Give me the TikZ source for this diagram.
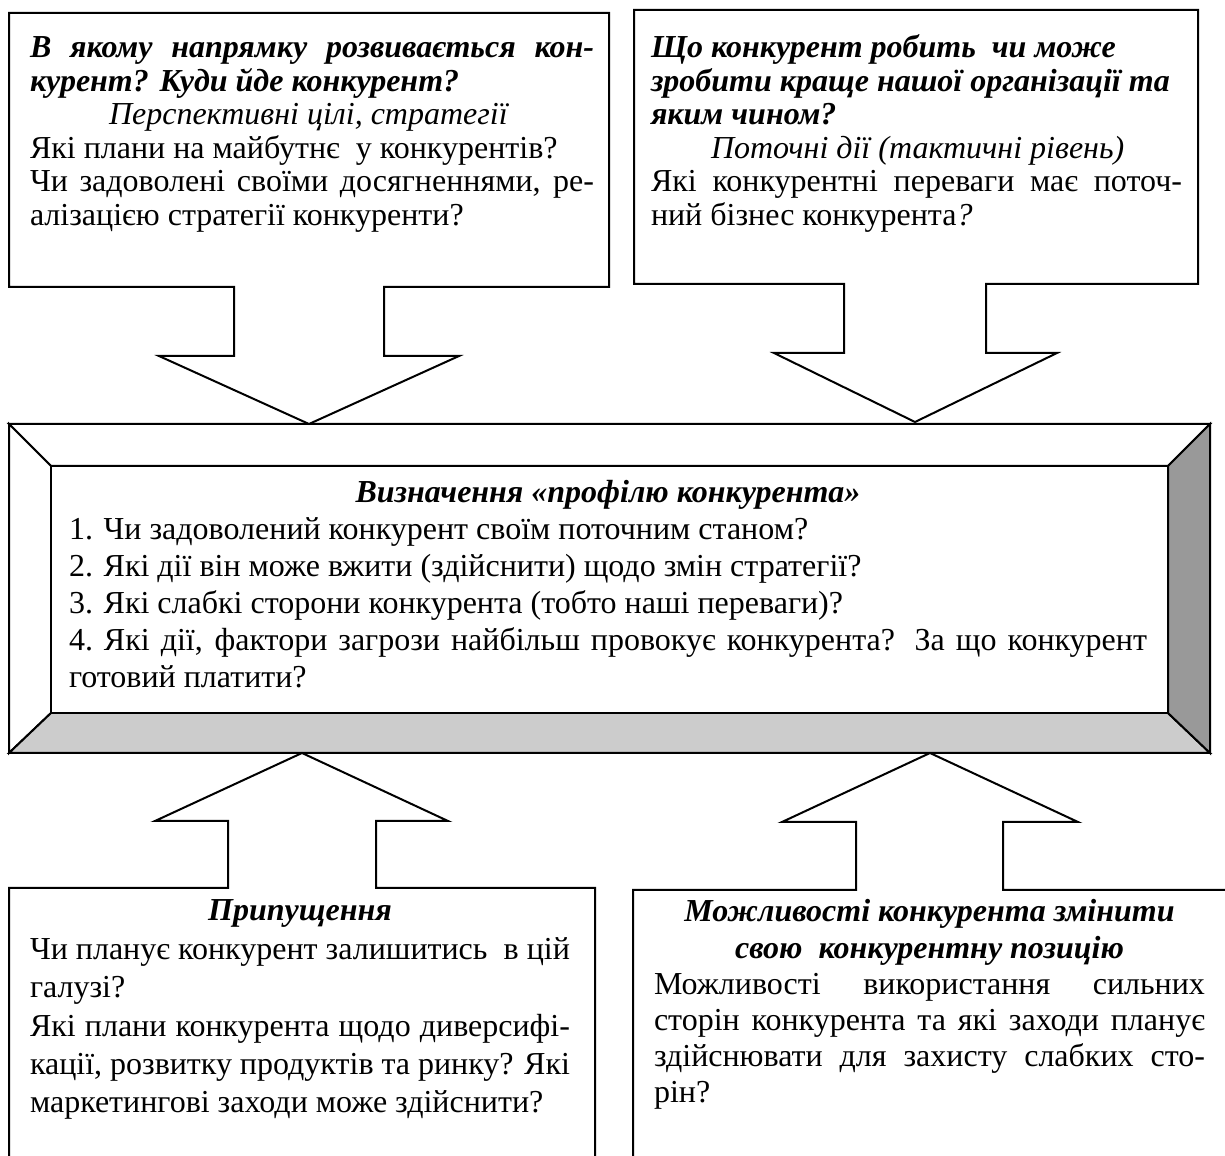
\documentclass[tikz,border=0pt]{standalone}
\usepackage{fontspec}
\setmainfont{Liberation Serif}
\definecolor{bevlight}{HTML}{CCCCCC}
\definecolor{bevdark}{HTML}{999999}
% one drawing unit = one pixel of the layout grid
\newlength{\upx}\setlength{\upx}{0.45pt}
% justified, left-aligned and centred lines of a text block
\newcommand{\JL}[1]{\makebox[\linewidth][s]{#1}\par}
\newcommand{\LL}[1]{\makebox[\linewidth][l]{#1}\par}
\newcommand{\CL}[1]{\makebox[\linewidth][c]{#1}\par}
% font size and line pitch (in layout units) for a text block
\newcommand{\blockfont}[1]{\fontsize{14.4pt}{#1\upx}\selectfont
  \lineskiplimit=-100pt\parindent=0pt\parskip=0pt}
\begin{document}
\begin{tikzpicture}[x=0.45pt,y=-0.45pt,
  callout/.style={draw=black,line width=0.9pt,line join=miter,fill=white},
  bevel/.style={draw=black,line width=0.9pt,line join=miter},
  txt/.style={inner sep=0pt,outer sep=0pt,anchor=base west,text=black}]
\useasboundingbox (0,0) rectangle (1225,1156);

% ---- central bevelled frame ----
\coordinate (o1) at (9,424);   \coordinate (o2) at (1210,424);
\coordinate (o3) at (1210,753); \coordinate (o4) at (9,753);
\coordinate (i1) at (51,466);  \coordinate (i2) at (1168,466);
\coordinate (i3) at (1168,713); \coordinate (i4) at (51,713);
\draw[bevel,fill=white]    (o1) -- (o2) -- (i2) -- (i1) -- cycle;
\draw[bevel,fill=white]    (o1) -- (i1) -- (i4) -- (o4) -- cycle;
\draw[bevel,fill=bevlight] (o4) -- (i4) -- (i3) -- (o3) -- cycle;
\draw[bevel,fill=bevdark]  (o2) -- (o3) -- (i3) -- (i2) -- cycle;
\draw[bevel,fill=white]    (i1) rectangle (i3);

% ---- top-left callout with down arrow ----
\draw[callout] (9,13) -- (609,13) -- (609,287) -- (384,287) -- (384,356)
  -- (459,356) -- (309,424) -- (159,356) -- (234,356) -- (234,287)
  -- (9,287) -- cycle;

% ---- top-right callout with down arrow ----
\draw[callout] (634,10) -- (1198,10) -- (1198,284) -- (986,284) -- (986,353)
  -- (1057,353) -- (915,422) -- (774,353) -- (844,353) -- (844,284)
  -- (634,284) -- cycle;

% ---- bottom-left callout with up arrow ----
\fill[white] (9,1156) -- (9,888) -- (228,888) -- (228,821) -- (155,821)
  -- (302,753) -- (448,821) -- (376,821) -- (376,888) -- (595,888)
  -- (595,1156) -- cycle;
\draw[bevel] (9,1156) -- (9,888) -- (228,888) -- (228,821) -- (155,821)
  -- (302,753) -- (448,821) -- (376,821) -- (376,888) -- (595,888)
  -- (595,1156);

% ---- bottom-right callout with up arrow ----
\fill[white] (633,1156) -- (633,890) -- (856,890) -- (856,822) -- (782,822)
  -- (930,753) -- (1078,822) -- (1003,822) -- (1003,890) -- (1225,890)
  -- (1225,1156) -- cycle;
\draw[bevel] (633,1156) -- (633,890) -- (856,890) -- (856,822) -- (782,822)
  -- (930,753) -- (1078,822) -- (1003,822) -- (1003,890) -- (1226,890);

% ---- texts ----
\node[txt] (tltext) at (30,58) {\begin{minipage}[t]{564\upx}\blockfont{33.5}%
\JL{\bfseries\itshape В якому напрямку розвивається кон-}
\LL{\bfseries\itshape курент? Куди йде конкурент?}
\LL{\hspace*{79\upx}\itshape Перспективні цілі, стратегії}
\LL{Які плани на майбутнє\ \ у конкурентів?}
\JL{Чи задоволені своїми досягненнями, ре-}
\LL{алізацією стратегії конкуренти?}
\end{minipage}};

\node[txt] (trtext) at (651,58) {\begin{minipage}[t]{531\upx}\blockfont{33.5}%
\LL{\bfseries\itshape Що конкурент робить\ \ чи може}
\LL{\bfseries\itshape зробити краще нашої організації та}
\LL{\bfseries\itshape яким чином?}
\LL{\hspace*{60\upx}\itshape Поточні дії (тактичні рівень)}
\JL{Які конкурентні переваги має поточ-}
\LL{ний бізнес конкурента\textit{?}}
\end{minipage}};

\node[txt] (ctext) at (69,503) {\begin{minipage}[t]{1078\upx}\blockfont{36.9}%
\CL{\bfseries\itshape Визначення «профілю конкурента»}
\LL{1. Чи задоволений конкурент своїм поточним станом?}
\LL{2. Які дії він може вжити (здійснити) щодо змін стратегії?}
\LL{3. Які слабкі сторони конкурента (тобто наші переваги)?}
\JL{4.\ Які дії, фактори загрози найбільш провокує конкурента? За що конкурент}
\LL{готовий платити?}
\end{minipage}};

\node[txt] (bltext) at (30,921) {\begin{minipage}[t]{540\upx}\blockfont{38.4}%
\CL{\bfseries\itshape Припущення}
\JL{Чи планує конкурент залишитись\ \ в цій}
\LL{галузі?}
\JL{Які плани конкурента щодо диверсифі-}
\JL{кації, розвитку продуктів та ринку? Які}
\LL{маркетингові заходи може здійснити?}
\end{minipage}};

\node[txt] (brtext) at (654,922) {\begin{minipage}[t]{551\upx}\blockfont{36.2}%
\CL{\bfseries\itshape Можливості конкурента змінити}
\CL{\bfseries\itshape свою\ \ конкурентну позицію}
\JL{Можливості використання сильних}
\JL{сторін конкурента та які заходи планує}
\JL{здійснювати для захисту слабких сто-}
\LL{рін?}
\end{minipage}};
\end{tikzpicture}
\end{document}
